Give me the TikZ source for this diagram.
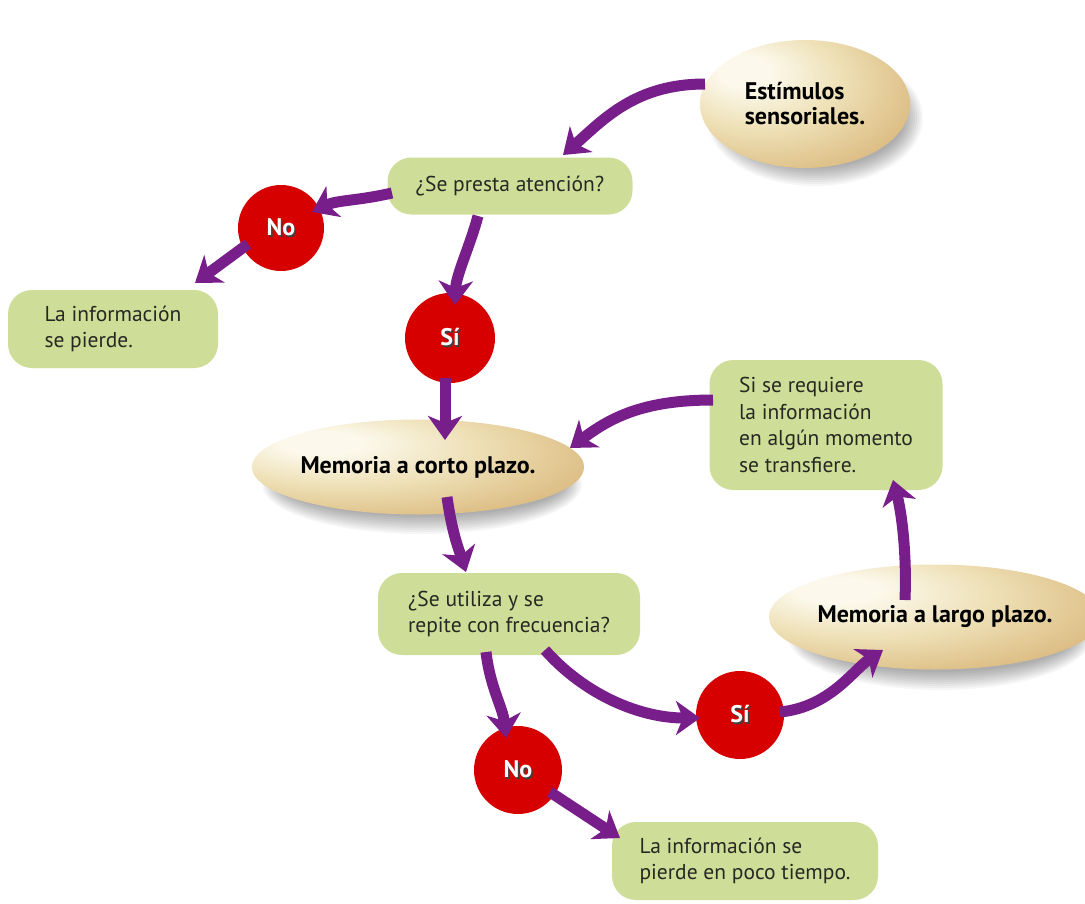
\documentclass[tikz,border=0pt]{standalone}
\usepackage{fontspec}
\setmainfont{PT Sans}
\usetikzlibrary{arrows.meta,shapes.geometric,calc}
\definecolor{purp}{RGB}{120,30,138}
\definecolor{grn}{RGB}{206,222,152}
\definecolor{txt}{RGB}{40,40,35}
\definecolor{redc}{RGB}{214,0,0}
\definecolor{eggA}{RGB}{252,249,236}
\definecolor{eggB}{RGB}{238,224,182}
\definecolor{eggC}{RGB}{222,192,136}
\definecolor{eggD}{RGB}{202,148,88}
\definecolor{eggE}{RGB}{178,108,55}
\pgfdeclareradialshading{eggshade}{\pgfpoint{-16bp}{14bp}}{color(0bp)=(eggA); color(6bp)=(eggA); color(20bp)=(eggB); color(34bp)=(eggC); color(50bp)=(eggD); color(68bp)=(eggE)}
\newcommand\shtxt[1]{\makebox[0pt][l]{\kern1.5pt\raisebox{-1.5pt}{\textcolor{black!75}{#1}}}#1}
\newcommand\eggshadow[4]{%
  \foreach \k in {0,...,9}{\fill[black,opacity=0.035] (#1,#2) ellipse [x radius={#3+8-2*\k}, y radius={#4+8-2*\k}];}}
\begin{document}
\begin{tikzpicture}[x=1pt,y=-1pt,
  arr/.style={line width=11pt, draw=purp, -{Stealth[length=24pt,width=34pt,inset=7pt]}},
  greenbox/.style={fill=grn, rounded corners=24pt, text=txt, align=left, inner sep=0pt, font=\fontsize{21.5}{26.5}\selectfont},
  egg/.style={ellipse, shading=eggshade, inner sep=0pt, align=left, text=black, font=\bfseries\fontsize{24}{25}\selectfont},
  circ/.style={circle, fill=redc, minimum size=88pt, inner sep=0pt, text=white, font=\bfseries\fontsize{24}{24}\selectfont}]
\useasboundingbox (0,0) rectangle (1085,903);
\fill[white] (0,0) rectangle (1085,903);

% soft shadows of the ellipses
\eggshadow{815}{118}{100}{60}
\eggshadow{422}{484}{152}{42}
\eggshadow{940}{636}{144}{46}

% nodes
\node[egg, minimum width=210pt, minimum height=128pt] (est) at (805,104) {Estímulos\\sensoriales.};
\node[greenbox, minimum width=245pt, minimum height=57pt] (q1) at (510,186) {¿Se presta atención?};
\node[circ, minimum size=86pt] (no1) at (281,228) {\shtxt{No}};
\node[greenbox, minimum width=210pt, minimum height=78pt] (lost1) at (113,329) {La información\\se pierde.};
\node[circ, minimum size=90pt] (si1) at (450,338) {\shtxt{Sí}};
\node[egg, minimum width=320pt, minimum height=95pt] (mcp) at (418,467) {Memoria a corto plazo.};
\node[greenbox, minimum width=233pt, minimum height=130pt] (req) at (826,425) {Si se requiere\\la información\\en algún momento\\se transfiere.};
\node[greenbox, minimum width=262pt, minimum height=82pt] (q2) at (509,614) {¿Se utiliza y se\\repite con frecuencia?};
\node[egg, minimum width=300pt, minimum height=105pt] (mlp) at (935,617) {Memoria a largo plazo.};
\node[circ] (si2) at (740,715) {\shtxt{Sí}};
\node[circ] (no2) at (518,770) {\shtxt{No}};
\node[greenbox, minimum width=266pt, minimum height=78pt] (lost2) at (745,861) {La información se\\pierde en poco tiempo.};

% connectors
\draw[arr] ($(est)+(-100,-20)$) .. controls +(-70,0) and +(40,-35) .. ($(q1)+(53,-31)$);
\draw[arr] ($(q1)+(-118,7)$) .. controls +(-35,8) and +(25,-12) .. ($(no1)+(31,-16)$);
\draw[arr] ($(no1)+(-33,16)$) -- ($(lost1)+(82,-46)$);
\draw[arr] ($(q1)+(-32,30)$) .. controls +(-8,30) and +(1,-30) .. ($(si1)+(5,-33)$);
\draw[arr] ($(si1)+(-5,40)$) -- ($(mcp)+(27,-27)$);
\draw[arr] ($(req)+(-113,-25)$) .. controls +(-70,0) and +(40,-30) .. ($(mcp)+(152,-19)$);
\draw[arr] ($(mcp)+(29,30)$) .. controls +(5,35) and +(-8,-25) .. ($(q2)+(-43,-42)$);
\draw[arr] ($(q2)+(-23,38)$) .. controls +(4,35) and +(-3,-30) .. ($(no2)+(-12,-32)$);
\draw[arr] ($(q2)+(36,36)$) .. controls +(40,45) and +(-60,0) .. ($(si2)+(-40,3)$);
\draw[arr] ($(si2)+(40,-3)$) .. controls +(50,-5) and +(-30,20) .. ($(mlp)+(-52,33)$);
\draw[arr] ($(mlp)+(-30,-17)$) .. controls +(2,-50) and +(8,30) .. ($(req)+(67,55)$);
\draw[arr] ($(no2)+(32,22)$) -- ($(lost2)+(-125,-23)$);
\end{tikzpicture}
\end{document}
